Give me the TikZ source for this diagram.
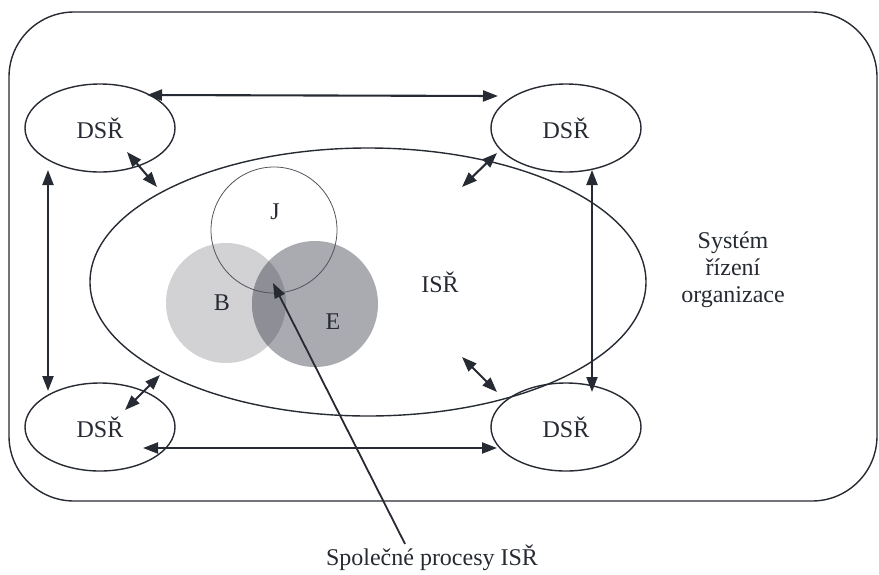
\documentclass[tikz,border=0pt]{standalone}
\usepackage{fontspec}
\setmainfont{Liberation Serif}
\usetikzlibrary{shapes.geometric,arrows.meta,calc}
\definecolor{ink}{RGB}{38,42,50}
\definecolor{bfill}{RGB}{210,210,212}
\definecolor{efill}{RGB}{170,170,177}
\definecolor{befill}{RGB}{142,142,150}
\tikzset{
  txt/.style={font=\fontsize{24}{27}\selectfont, text=ink, inner sep=0pt},
  dsr/.style={ellipse, draw=ink, line width=1.4pt, minimum width=150pt, minimum height=88pt, inner sep=0pt, txt},
  bigell/.style={ellipse, draw=ink, line width=1.4pt, minimum width=556pt, minimum height=268pt, inner sep=0pt},
  setc/.style={circle, inner sep=0pt, draw=none},
  tip/.tip={Triangle[length=15pt,width=11pt]},
  dbl/.style={draw=ink, line width=2.1pt, tip-tip},
  ptr/.style={draw=ink, line width=1.8pt, -tip},
}
\begin{document}
\begin{tikzpicture}[x=1pt,y=-1pt]
\useasboundingbox (0,0) rectangle (879,574);
% outer frame
\draw[ink, line width=1.4pt, rounded corners=65pt] (9,12) rectangle (877,501);
% big ellipse
\node[bigell] (isr) at (368,282) {};
% set circles
\node[setc, minimum size=120pt, fill=bfill] (B) at (226,303) {};
\node[setc, minimum size=126pt, fill=efill] (E) at (315,304) {};
\begin{scope}
  \clip (226,303) circle[radius=60];
  \fill[befill] (315,304) circle[radius=63];
\end{scope}
\node[setc, minimum size=126pt, draw=ink!80, line width=0.8pt] (J) at (274,230) {};
\node[txt] (Jl) at (275,212) {J};
\node[txt] (Bl) at (222,303) {B};
\node[txt] (El) at (333,322) {E};
\node[txt] (isrl) at (440,282) {ISŘ};
% DSR ellipses
\node[dsr] (tl) at (100,128) {DSŘ};
\node[dsr] (tr) at (566,128) {DSŘ};
\node[dsr] (bl) at (100,427) {DSŘ};
\node[dsr] (br) at (566,427) {DSŘ};
% side text
\node[txt, align=center] (sro) at (733,270) {Systém\\řízení\\organizace};
\node[txt] (spl) at (432,558) {Společné procesy ISŘ};
% arrow end points
\coordinate (t1) at ($(tl.center)+(47,-33)$);
\coordinate (t2) at ($(tr.center)+(-68,-32)$);
\coordinate (b1) at ($(bl.center)+(43,21)$);
\coordinate (b2) at ($(br.center)+(-69,21)$);
\coordinate (l1) at ($(tl.center)+(-52,42)$);
\coordinate (l2) at ($(bl.center)+(-52,-36)$);
\coordinate (r1) at ($(tr.center)+(26,42)$);
\coordinate (r2) at ($(br.center)+(26,-35)$);
\coordinate (d1a) at ($(tl.center)+(27,24)$);
\coordinate (d1b) at ($(tl.center)+(57,59)$);
\coordinate (d2a) at ($(tr.center)+(-69,25)$);
\coordinate (d2b) at ($(tr.center)+(-104,59)$);
\coordinate (d3a) at ($(bl.center)+(60,-52)$);
\coordinate (d3b) at ($(bl.center)+(25,-17)$);
\coordinate (d4a) at ($(br.center)+(-104,-70)$);
\coordinate (d4b) at ($(br.center)+(-69,-35)$);
\coordinate (ptail) at ($(spl.north)+(-27,-1)$);
\coordinate (phead) at (273,283);
% arrows
\draw[dbl] (t1) -- (t2);
\draw[dbl] (b1) -- (b2);
\draw[dbl] (l1) -- (l2);
\draw[dbl] (r1) -- (r2);
\draw[dbl] (d1a) -- (d1b);
\draw[dbl] (d2a) -- (d2b);
\draw[dbl] (d3a) -- (d3b);
\draw[dbl] (d4a) -- (d4b);
\draw[ptr] (ptail) -- (phead);
\end{tikzpicture}
\end{document}
